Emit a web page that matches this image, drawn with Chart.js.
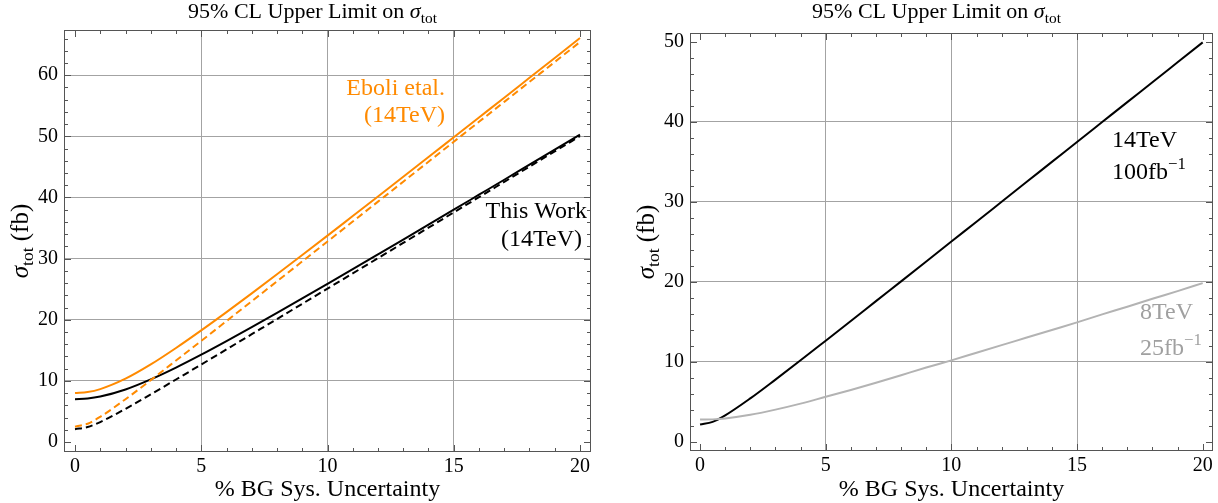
<!DOCTYPE html>
<html>
<head>
<meta charset="utf-8">
<script src="https://cdn.jsdelivr.net/npm/chart.js@4.4.0/dist/chart.umd.min.js"></script>
<style>
    body { margin: 0; background: #fff; }
    #wrap { position: relative; width: 1218px; height: 503px; }
    .panel { position: absolute; top: 0; }
</style>
</head>
<body>
<div id="wrap">
    <canvas id="chartLeft" class="panel" style="left:0" width="605" height="503"></canvas>
    <canvas id="chartRight" class="panel" style="left:605px" width="613" height="503"></canvas>
</div>
<script>
// % BG systematic uncertainty (x values, shared by every curve)
const uncertainty = [0, 0.5, 1, 2, 3, 4, 5, 6, 7, 8, 9, 10, 11, 12, 13, 14, 15, 16, 17, 18, 19, 20]

// left panel: 14 TeV limits
const eboliSolid  = [8.0, 8.17, 8.65, 10.35, 12.68, 15.37, 18.25, 21.24, 24.31, 27.43, 30.58, 33.76, 36.96, 40.16, 43.38, 46.61, 49.85, 53.09, 56.33, 59.58, 62.83, 66.08]
const eboliDashed = [2.5, 2.99, 4.12, 7.0, 10.12, 13.32, 16.54, 19.78, 23.03, 26.28, 29.54, 32.8, 36.06, 39.32, 42.58, 45.85, 49.11, 52.38, 55.64, 58.91, 62.17, 65.44]
const thisWorkSolid  = [7.0, 7.11, 7.43, 8.59, 10.24, 12.17, 14.28, 16.5, 18.78, 21.11, 23.48, 25.87, 28.27, 30.69, 33.12, 35.56, 38.0, 40.45, 42.9, 45.36, 47.82, 50.29]
const thisWorkDashed = [2.1, 2.44, 3.26, 5.42, 7.79, 10.22, 12.67, 15.15, 17.63, 20.11, 22.6, 25.09, 27.58, 30.07, 32.57, 35.06, 37.56, 40.05, 42.55, 45.05, 47.55, 50.04]

// right panel: 14 TeV 100 fb^-1 vs 8 TeV 25 fb^-1
const lhc14 = [2.2, 2.52, 3.33, 5.45, 7.8, 10.21, 12.66, 15.12, 17.6, 20.07, 22.55, 25.04, 27.52, 30.01, 32.5, 34.99, 37.48, 39.97, 42.46, 44.94, 47.43, 49.92]
const lhc8  = [2.8, 2.83, 2.95, 3.4, 4.05, 4.8, 5.65, 6.5, 7.4, 8.35, 9.3, 10.2, 11.15, 12.1, 13.05, 14.0, 14.95, 15.95, 16.9, 17.9, 18.85, 19.85]

// tick labels
const xTicks = [0, 5, 10, 15, 20]
const yTicksLeft = [0, 10, 20, 30, 40, 50, 60]
const yTicksRight = [0, 10, 20, 30, 40, 50]

const SERIF = "'Liberation Serif', 'Times New Roman', serif"
const ORANGE = "#ff8a00"
const LIGHTGRAY = "#b3b3b3"
const GRIDCOLOR = "#a3a3a3"

function pts(ys) {
    return uncertainty.map((x, i) => ({ x: x, y: ys[i] }))
}

function line(ys, color, dashed) {
    return {
        data: pts(ys),
        showLine: true,
        borderColor: color,
        borderWidth: 2,
        borderDash: dashed ? [7, 4] : [],
        pointRadius: 0,
        cubicInterpolationMode: "monotone",
        fill: false
    }
}

// draw text made of pieces (normal / italic / subscript / superscript)
function richText(ctx, parts, x, y, align, size, color) {
    const fontFor = p => {
        const s = (p.sub || p.sup) ? size * 0.7 : size
        return (p.italic ? "italic " : "") + s + "px " + SERIF
    }
    let total = 0
    parts.forEach(p => { ctx.font = fontFor(p); total += ctx.measureText(p.t).width })
    let cx = align === "center" ? x - total / 2 : align === "right" ? x - total : x
    ctx.fillStyle = color
    ctx.textBaseline = "middle"
    ctx.textAlign = "left"
    parts.forEach(p => {
        ctx.font = fontFor(p)
        let dy = p.sub ? size * 0.3 : p.sup ? -size * 0.35 : 0
        ctx.fillText(p.t, cx, y + dy)
        cx += ctx.measureText(p.t).width
    })
}

const sigmaTot = [{ t: "σ", italic: true }, { t: "tot", sub: true }]

// frame + Mathematica style inward ticks on all four sides
const framePlugin = {
    id: "frame",
    beforeDatasetsDraw(chart) {
        const { ctx, chartArea: a, scales } = chart
        const xs = scales.x, ys = scales.y
        ctx.save()
        ctx.strokeStyle = "#555"
        ctx.lineWidth = 1
        ctx.strokeRect(a.left + 0.5, a.top + 0.5, a.right - a.left - 1, a.bottom - a.top - 1)
        ctx.beginPath()
        for (let v = 0; v <= 20; v++) {
            const px = Math.round(xs.getPixelForValue(v)) + 0.5
            const len = v % 5 === 0 ? 7 : 4
            ctx.moveTo(px, a.bottom); ctx.lineTo(px, a.bottom - len)
            ctx.moveTo(px, a.top); ctx.lineTo(px, a.top + len)
        }
        for (let v = 0; v <= ys.max; v += 2) {
            const py = Math.round(ys.getPixelForValue(v)) + 0.5
            const len = v % 10 === 0 ? 7 : 4
            ctx.moveTo(a.left, py); ctx.lineTo(a.left + len, py)
            ctx.moveTo(a.right, py); ctx.lineTo(a.right - len, py)
        }
        ctx.stroke()
        ctx.restore()
    }
}

// titles, axis labels and curve annotations
const labelPlugin = {
    id: "labels",
    afterDraw(chart, args, opts) {
        const { ctx, chartArea: a } = chart
        const mid = (a.left + a.right) / 2
        ctx.save()
        richText(ctx, [{ t: "95% CL Upper Limit on " }].concat(sigmaTot), mid - 15, 12, "center", 22, "#000")
        richText(ctx, [{ t: "% BG Sys. Uncertainty" }], mid, 490, "center", 24, "#000")
        ctx.save()
        ctx.translate(opts.yLabelX, (a.top + a.bottom) / 2)
        ctx.rotate(-Math.PI / 2)
        richText(ctx, sigmaTot.concat([{ t: " (fb)" }]), 0, 0, "center", 25, "#000")
        ctx.restore()
        opts.notes.forEach(n => richText(ctx, n.parts, n.x, n.y, n.align, 24, n.color))
        ctx.restore()
    }
}

function makePanel(canvas, cfg) {
    return new Chart(canvas, {
        type: "scatter",
        data: { datasets: cfg.datasets },
        options: {
            responsive: false,
            animation: false,
            layout: { padding: cfg.padding },
            plugins: {
                legend: { display: false },
                tooltip: { enabled: false },
                labels: { yLabelX: cfg.yLabelX, notes: cfg.notes }
            },
            scales: {
                x: {
                    type: "linear",
                    min: cfg.xMin, max: cfg.xMax,
                    afterBuildTicks: s => { s.ticks = xTicks.map(v => ({ value: v })) },
                    afterFit: s => { s.height = cfg.xAxisHeight },
                    ticks: { font: { family: SERIF, size: 20 }, color: "#000", padding: 3, maxRotation: 0 },
                    grid: {
                        drawTicks: false,
                        color: c => (c.tick && c.tick.value > 0 && c.tick.value < 20) ? GRIDCOLOR : "rgba(0,0,0,0)"
                    },
                    border: { display: false }
                },
                y: {
                    type: "linear",
                    min: cfg.yMin, max: cfg.yMax,
                    afterBuildTicks: s => { s.ticks = cfg.yTicks.map(v => ({ value: v })) },
                    afterFit: s => { s.width = cfg.yAxisWidth },
                    ticks: { font: { family: SERIF, size: 20 }, color: "#000", padding: 6 },
                    grid: {
                        drawTicks: false,
                        color: c => (c.tick && c.tick.value > 0 && c.tick.value <= cfg.yGridMax) ? GRIDCOLOR : "rgba(0,0,0,0)"
                    },
                    border: { display: false }
                }
            }
        },
        plugins: [framePlugin, labelPlugin]
    })
}

function loadCharts() {
    makePanel(document.getElementById("chartLeft"), {
        datasets: [
            line(eboliSolid, ORANGE, false),
            line(eboliDashed, ORANGE, true),
            line(thisWorkSolid, "#000", false),
            line(thisWorkDashed, "#000", true)
        ],
        padding: { left: 0, right: 14, top: 30, bottom: 0 },
        xAxisHeight: 51, yAxisWidth: 64,
        xMin: -0.436, xMax: 20.436,
        yMin: -1.64, yMax: 67.4,
        yTicks: yTicksLeft, yGridMax: 60,
        yLabelX: 21,
        notes: [
            { parts: [{ t: "Eboli etal." }], x: 445, y: 89, align: "right", color: ORANGE },
            { parts: [{ t: "(14TeV)" }], x: 445, y: 116, align: "right", color: ORANGE },
            { parts: [{ t: "This Work" }], x: 587, y: 212, align: "right", color: "#000" },
            { parts: [{ t: "(14TeV)" }], x: 582, y: 240, align: "right", color: "#000" }
        ]
    })

    makePanel(document.getElementById("chartRight"), {
        datasets: [
            line(lhc8, LIGHTGRAY, false),
            line(lhc14, "#000", false)
        ],
        padding: { left: 0, right: 5, top: 33, bottom: 0 },
        xAxisHeight: 52, yAxisWidth: 85,
        xMin: -0.4, xMax: 20.41,
        yMin: -1.12, yMax: 51.09,
        yTicks: yTicksRight, yGridMax: 40,
        yLabelX: 42,
        notes: [
            { parts: [{ t: "14TeV" }], x: 507, y: 141, align: "left", color: "#000" },
            { parts: [{ t: "100fb" }, { t: "−1", sup: true }], x: 507, y: 173, align: "left", color: "#000" },
            { parts: [{ t: "8TeV" }], x: 535, y: 313, align: "left", color: "#a0a0a0" },
            { parts: [{ t: "25fb" }, { t: "−1", sup: true }], x: 535, y: 349, align: "left", color: "#a0a0a0" }
        ]
    })
}

window.addEventListener("load", loadCharts)
</script>
</body>
</html>
